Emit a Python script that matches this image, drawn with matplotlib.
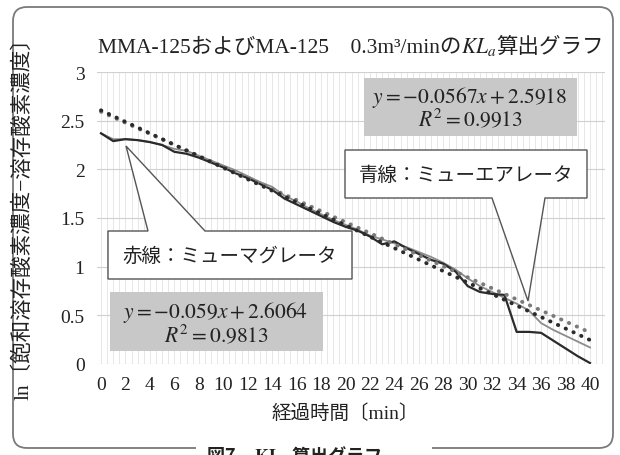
import numpy as np
import matplotlib
matplotlib.use('Agg')
import matplotlib.pyplot as plt
from matplotlib.patches import Polygon, Rectangle, FancyBboxPatch

plt.rcParams['font.family'] = ['Liberation Serif', 'Noto Sans CJK JP']
plt.rcParams['mathtext.fontset'] = 'stix'

# elapsed time [min] (category axis)
minutes = list(range(41))
# ln(Cs - C) : ミューマグレータ (dark line, "赤線")
magu = [2.37, 2.29, 2.31, 2.30, 2.28, 2.25, 2.18, 2.16, 2.12, 2.07,
        2.02, 1.96, 1.91, 1.85, 1.79, 1.70, 1.64, 1.58, 1.52, 1.46,
        1.41, 1.37, 1.31, 1.23, 1.26, 1.19, 1.13, 1.07, 1.03, 0.95,
        0.80, 0.74, 0.72, 0.71, 0.33, 0.33, 0.32, 0.24, 0.16, 0.08,
        0.01]
# ln(Cs - C) : ミューエアレータ (light line, "青線")
air = [2.37, 2.31, 2.31, 2.30, 2.28, 2.25, 2.21, 2.19, 2.14, 2.09,
       2.04, 1.99, 1.93, 1.87, 1.82, 1.73, 1.67, 1.60, 1.54, 1.48,
       1.43, 1.38, 1.32, 1.28, 1.24, 1.20, 1.15, 1.10, 1.04, 0.97,
       0.88, 0.80, 0.74, 0.68, 0.62, 0.55, 0.42, 0.35, 0.29, 0.23,
       0.17]
# linear trendlines from the chart (slope, intercept, R^2)
fit_magu = (-0.059, 2.6064, 0.9813)
fit_air = (-0.0567, 2.5918, 0.9913)

xticks = list(range(0, 41, 2))
yticks = [0, 0.5, 1, 1.5, 2, 2.5, 3]
ytick_labels = ['0', '0.5', '1', '1.5', '2', '2.5', '3']

W, H = 620, 456
fig = plt.figure(figsize=(6.2, 4.56), dpi=100)
TXT = '#222222'


def fx(px):
    return px / W


def fy(py):
    return 1 - py / H


# plot area (pixels): x 97..605, y 73..365 ; x=0 -> 101px, x=40 -> 590px
pxmin = (590 - 101) / 40.0
ax = fig.add_axes([fx(97), fy(365), (605 - 97) / W, (365 - 73) / H])
ax.set_xlim(-4 / pxmin, 40 + 15 / pxmin)
ax.set_ylim(0, 3)
ax.set_xticks(xticks)
ax.set_xticks(np.arange(0, 41.5, 0.5), minor=True)
ax.set_yticks(yticks)
ax.set_yticklabels(ytick_labels)
ax.grid(axis='x', which='both', color='#e3e3e3', lw=0.6)
ax.grid(axis='y', which='major', color='#d0d0d0', lw=0.8)
ax.set_axisbelow(True)
for s in ax.spines.values():
    s.set_visible(False)
ax.tick_params(which='both', length=0, labelcolor=TXT)
ax.tick_params(axis='x', labelsize=14, pad=9)
ax.tick_params(axis='y', labelsize=14, pad=9)

xs = np.array([0, 40])
ax.plot(minutes, air, color='#8c8c8c', lw=1.3, zorder=3)
ax.plot(minutes, magu, color='#2b2b2b', lw=1.6, zorder=4)
ax.plot(xs, fit_air[0] * xs + fit_air[1], color='#7a7a7a', lw=2.8,
        ls=(0, (0.1, 2.1)), dash_capstyle='round', zorder=5)
ax.plot(xs, fit_magu[0] * xs + fit_magu[1], color='#2b2b2b', lw=2.8,
        ls=(0, (0.1, 2.1)), dash_capstyle='round', zorder=6)

# overlay in pixel coordinates for frame / callouts
ov = fig.add_axes([0, 0, 1, 1], zorder=10)
ov.set_xlim(0, W)
ov.set_ylim(H, 0)
ov.axis('off')
renderer = fig.canvas.get_renderer()


def chain_text(x, y, pieces, align='center', **kw):
    # mathtext cannot fall back to the CJK font, so build the line piece by piece
    texts = [ov.text(0, y, s, ha='left', va='baseline', **kw, **extra)
             for s, extra in pieces]
    widths = [t.get_window_extent(renderer).width for t in texts]
    cur = x - sum(widths) / 2 if align == 'center' else x
    for t, w in zip(texts, widths):
        t.set_x(cur)
        cur += w
    return texts


ov.add_patch(FancyBboxPatch((13, 8), 600, 441,
                            boxstyle='round,pad=0,rounding_size=14',
                            fc='none', ec='#7a7a7a', lw=1.3))

chain_text(351, 53, [('MMA-125およびMA-125　0.3m³/minの', {}),
                     (r'$KL_a$', {}),
                     ('算出グラフ', {})],
           fontsize=15.5, color=TXT)

ov.text(23, 214, 'ln〔飽和溶存酸素濃度−溶存酸素濃度〕', rotation=90,
        ha='center', va='center', fontsize=15.5, color=TXT)
ov.text(345, 414, '経過時間〔min〕', ha='center', va='center',
        fontsize=14, color=TXT)

# equation boxes
ov.add_patch(Rectangle((364, 79), 213, 58, fc='#c8c8c8', ec='none'))
ov.text(470, 98, r'$y = -%.4fx + %.4f$' % (-fit_air[0], fit_air[1]),
        ha='center', va='center', fontsize=15.5, color=TXT)
ov.text(470, 120, r'$R^2 = %.4f$' % fit_air[2],
        ha='center', va='center', fontsize=15.5, color=TXT)

ov.add_patch(Rectangle((110, 293), 213, 59, fc='#c8c8c8', ec='none'))
ov.text(216, 313, r'$y = -%.3fx + %.4f$' % (-fit_magu[0], fit_magu[1]),
        ha='center', va='center', fontsize=15.5, color=TXT)
ov.text(216, 336, r'$R^2 = %.4f$' % fit_magu[2],
        ha='center', va='center', fontsize=15.5, color=TXT)

# callouts
ov.add_patch(Polygon([(108, 232), (148, 232), (126, 147), (205, 232),
                      (352, 232), (352, 280), (108, 280)], closed=True,
                     fc='white', ec='#555555', lw=1.0))
ov.text(230, 257, '赤線：ミューマグレータ', ha='center', va='center',
        fontsize=14, color=TXT)

ov.add_patch(Polygon([(345, 151), (587, 151), (587, 199), (545, 199),
                      (528, 302), (492, 199), (345, 199)], closed=True,
                     fc='white', ec='#555555', lw=1.0))
ov.text(466, 176, '青線：ミューエアレータ', ha='center', va='center',
        fontsize=14, color=TXT)

# caption (cut off at the bottom edge, as in the scan)
ov.add_patch(Rectangle((196, 440), 236, 20, fc='white', ec='none'))
chain_text(207, 462, [('図7　', {'family': ['Noto Sans CJK JP'],
                                 'fontweight': 'bold'}),
                      (r'$\mathbf{KL_a}$', {}),
                      (' 算出グラフ', {'family': ['Noto Sans CJK JP'],
                                   'fontweight': 'bold'})],
           align='left', fontsize=13, color=TXT)

fig.savefig('out.png', dpi=100)
